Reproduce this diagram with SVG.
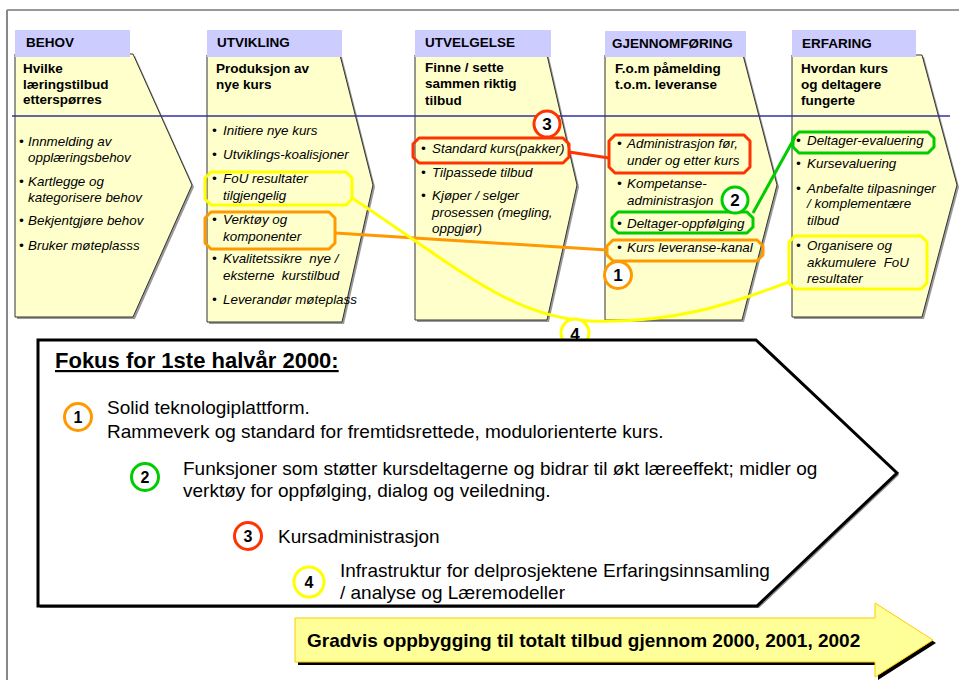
<svg xmlns="http://www.w3.org/2000/svg" width="959" height="680" viewBox="0 0 959 680">
<style>
text{font-family:"Liberation Sans",Arial,sans-serif;fill:#000}
.hd{font-size:13.5px;font-weight:bold}
.sub{font-size:13.5px;font-weight:bold}
.bl{font-size:13.4px;font-style:italic;white-space:pre}
.body{fill:#ffffcc;stroke:#333;stroke-width:1}
.shadow{fill:#999}
.head{fill:#ccccff}
.hl{fill:none;stroke-width:3;stroke-linejoin:round}
.y{stroke:#ffff00}.o{stroke:#ff9900}.r{stroke:#ff3300}.g{stroke:#00cc00}
.num{font-size:17px;font-weight:bold;text-anchor:middle}
.big{font-size:19px}
.cir{fill:#fff;stroke-width:3}
</style>
<path d="M7,10 H959" stroke="#333" stroke-width="1"/>
<path d="M7,10 V680" stroke="#888" stroke-width="2"/>

<g id="behov">
<polygon class="shadow" points="17,56 135,56 194,187 135,319 17,319"/>
<polygon class="body" points="15,54 133,54 192,185 133,317 15,317"/>
<rect class="head" x="15" y="30" width="115" height="27"/>
<text class="hd" x="26" y="47">BEHOV</text>
<text class="sub" x="23" y="73">Hvilke</text>
<text class="sub" x="23" y="88.5">læringstilbud</text>
<text class="sub" x="23" y="104">etterspørres</text>
<text class="bl" x="19" y="146">•</text><text class="bl" x="28" y="146">Innmelding av</text>
<text class="bl" x="28" y="162">opplæringsbehov</text>
<text class="bl" x="19" y="186">•</text><text class="bl" x="28" y="186">Kartlegge og</text>
<text class="bl" x="28" y="202">kategorisere behov</text>
<text class="bl" x="19" y="225">•</text><text class="bl" x="28" y="225">Bekjentgjøre behov</text>
<text class="bl" x="19" y="250">•</text><text class="bl" x="28" y="250">Bruker møteplasss</text>
</g>

<g id="utvikling">
<polygon class="shadow" points="209,57 342,57 375,187 344,324 209,324"/>
<polygon class="body" points="207,55 340,55 373,185 342,322 207,322"/>
<rect class="head" x="207" y="30" width="135" height="27"/>
<text class="hd" x="217" y="47">UTVIKLING</text>
<text class="sub" x="216" y="73">Produksjon av</text>
<text class="sub" x="216" y="88.5">nye kurs</text>
<text class="bl" x="212" y="135">•</text><text class="bl" x="223" y="135">Initiere nye kurs</text>
<text class="bl" x="212" y="159">•</text><text class="bl" x="223" y="159">Utviklings-koalisjoner</text>
<text class="bl" x="212" y="183">•</text><text class="bl" x="223" y="183">FoU resultater</text>
<text class="bl" x="223" y="200">tilgjengelig</text>
<text class="bl" x="212" y="224">•</text><text class="bl" x="223" y="224">Verktøy og</text>
<text class="bl" x="223" y="241">komponenter</text>
<text class="bl" x="212" y="263">•</text><text class="bl" x="223" y="263">Kvalitetssikre  nye /</text>
<text class="bl" x="223" y="280">eksterne  kurstilbud</text>
<text class="bl" x="212" y="304">•</text><text class="bl" x="223" y="304">Leverandør møteplass</text>
</g>

<g id="utvelgelse">
<polygon class="shadow" points="417,57 549,57 579,187 549,322 417,322"/>
<polygon class="body" points="415,55 547,55 577,185 547,320 415,320"/>
<rect class="head" x="415" y="30" width="136" height="27"/>
<text class="hd" x="425" y="47">UTVELGELSE</text>
<text class="sub" x="425" y="72">Finne / sette</text>
<text class="sub" x="425" y="88">sammen riktig</text>
<text class="sub" x="425" y="105">tilbud</text>
<text class="bl" x="421" y="153">•</text><text class="bl" x="432" y="153">Standard kurs(pakker)</text>
<text class="bl" x="421" y="177">•</text><text class="bl" x="432" y="177">Tilpassede tilbud</text>
<text class="bl" x="421" y="200">•</text><text class="bl" x="432" y="200">Kjøper / selger</text>
<text class="bl" x="432" y="217">prosessen (megling,</text>
<text class="bl" x="432" y="233">oppgjør)</text>
</g>

<g id="gjennomforing">
<polygon class="shadow" points="607,57 745,57 779,187 744,322 607,322"/>
<polygon class="body" points="605,55 743,55 777,185 742,320 605,320"/>
<rect class="head" x="605" y="31" width="141" height="26"/>
<text class="hd" x="612" y="48">GJENNOMFØRING</text>
<text class="sub" x="615" y="73">F.o.m påmelding</text>
<text class="sub" x="615" y="88.5">t.o.m. leveranse</text>
<text class="bl" x="617" y="148">•</text><text class="bl" x="627" y="148">Administrasjon før,</text>
<text class="bl" x="627" y="165">under og etter kurs</text>
<text class="bl" x="617" y="188">•</text><text class="bl" x="627" y="188">Kompetanse-</text>
<text class="bl" x="627" y="205">administrasjon</text>
<text class="bl" x="617" y="228">•</text><text class="bl" x="627" y="228">Deltager-oppfølging</text>
<text class="bl" x="617" y="252">•</text><text class="bl" x="627" y="252">Kurs leveranse-kanal</text>
</g>

<g id="erfaring">
<polygon class="shadow" points="794,57 924,57 959,187 924,319 794,319"/>
<polygon class="body" points="792,55 922,55 957,185 922,317 792,317"/>
<rect class="head" x="792" y="30" width="124" height="27"/>
<text class="hd" x="802" y="48">ERFARING</text>
<text class="sub" x="801" y="73">Hvordan kurs</text>
<text class="sub" x="801" y="88.5">og deltagere</text>
<text class="sub" x="801" y="105">fungerte</text>
<text class="bl" x="796" y="145">•</text><text class="bl" x="807" y="145">Deltager-evaluering</text>
<text class="bl" x="796" y="168">•</text><text class="bl" x="807" y="168">Kursevaluering</text>
<text class="bl" x="796" y="193">•</text><text class="bl" x="807" y="193">Anbefalte tilpasninger</text>
<text class="bl" x="807" y="208">/ komplementære</text>
<text class="bl" x="807" y="225">tilbud</text>
<text class="bl" x="796" y="250">•</text><text class="bl" x="807" y="250">Organisere og</text>
<text class="bl" x="807" y="267">akkumulere  FoU</text>
<text class="bl" x="807" y="283">resultater</text>
</g>

<path id="divider" d="M12,116 H950" stroke="#333399" stroke-width="1.5"/>

<g id="highlights">
<path class="hl y" d="M211,172 H346 L352,178 V199 L346,205 H211 L205,199 V178 Z"/>
<path class="hl o" d="M211,212 H329 L335,218 V243 L329,249 H211 L205,243 V218 Z"/>
<path class="hl r" d="M419,138 H563 L569,144 V157 L563,163 H419 L413,157 V144 Z"/>
<path class="hl r" d="M615,135 H744 L750,141 V167 L744,173 H615 L609,167 V141 Z"/>
<path class="hl g" d="M618,212 H747 L753,218 V227 L747,233 H618 L612,227 V218 Z"/>
<path class="hl o" d="M613,240 H757 L763,246 V255 L757,261 H613 L607,255 V246 Z"/>
<path class="hl g" d="M799,132 H928 L934,138 V147 L928,153 H799 L793,147 V138 Z"/>
<path class="hl y" d="M795,236 H921 L927,242 V283 L921,289 H795 L789,283 V242 Z"/>
</g>

<g id="connectors" fill="none" stroke-width="3">
<path class="o" d="M335,233 L607,250"/>
<path class="r" d="M569,152 L609,158"/>
<path class="g" d="M753,213 L795,137"/>
<path class="y" d="M352,198 C450,262 510,318 590,321 C680,324 740,300 789,282"/>
</g>

<g id="markers">
<circle class="cir r" cx="547" cy="124" r="13"/><text class="num" x="547" y="130">3</text>
<circle class="cir g" cx="735" cy="200" r="13"/><text class="num" x="735" y="206">2</text>
<circle class="cir o" cx="618" cy="275" r="13.5"/><text class="num" x="618" y="281">1</text>
<circle class="cir y" cx="575" cy="333" r="14"/><text class="num" x="575" y="340">4</text>
</g>

<g id="fokus">
<polygon points="40,342 758,342 899,475 759,608 40,608" fill="#888"/>
<polygon points="38,340 756,340 897,473 757,606 38,606" fill="#fff" stroke="#000" stroke-width="3" stroke-linejoin="miter"/>
<text x="55" y="368" style="font-size:22px;font-weight:bold;text-decoration:underline">Fokus for 1ste halvår 2000:</text>
<circle class="cir o" cx="78" cy="417" r="13.5"/><text class="num" x="78" y="423" style="font-size:16px">1</text>
<text class="big" x="107" y="414">Solid teknologiplattform.</text>
<text class="big" x="107" y="438">Rammeverk og standard for fremtidsrettede, modulorienterte kurs.</text>
<circle class="cir g" cx="145" cy="477" r="13.5"/><text class="num" x="145" y="483" style="font-size:16px">2</text>
<text class="big" x="183" y="475">Funksjoner som støtter kursdeltagerne og bidrar til økt læreeffekt; midler og</text>
<text class="big" x="183" y="497">verktøy for oppfølging, dialog og veiledning.</text>
<circle class="cir r" cx="248" cy="536" r="13.5"/><text class="num" x="248" y="542" style="font-size:16px">3</text>
<text class="big" x="278" y="543">Kursadministrasjon</text>
<circle class="cir y" cx="309" cy="582" r="15"/><text class="num" x="309" y="588" style="font-size:16px">4</text>
<text class="big" x="340" y="577">Infrastruktur for delprosjektene Erfaringsinnsamling</text>
<text class="big" x="340" y="599">/ analyse og Læremodeller</text>
</g>

<g id="gradvis">
<polygon points="298,621 878,621 878,606 936,643 878,680 878,665 298,665" fill="#000"/>
<polygon points="295,618 875,618 875,603 933,640 875,677 875,662 295,662" fill="#ffff99" stroke="#ffcc00" stroke-width="1"/>
<text x="307" y="647" style="font-size:19px;font-weight:bold">Gradvis oppbygging til totalt tilbud gjennom 2000, 2001, 2002</text>
</g>
</svg>
